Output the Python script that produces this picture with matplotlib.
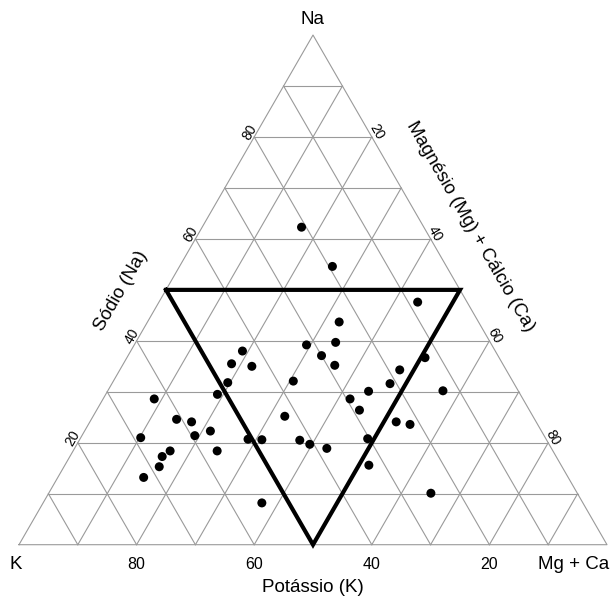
import numpy as np
import matplotlib
matplotlib.use("Agg")
import matplotlib.pyplot as plt

# ---- data (percent) ----
na = [62.3, 54.6, 47.6, 43.7, 39.2, 39.7, 37.1, 35.2, 36.7, 34.3,
      38.0, 35.5, 35.0, 31.8, 32.1, 31.6, 30.2, 30.1, 29.5, 28.6,
      28.6, 26.4, 25.2, 24.6, 24.1, 24.1, 23.6, 22.3, 21.4, 21.0,
      20.7, 20.6, 20.5, 19.7, 20.8, 18.9, 18.4, 18.4, 17.3, 15.3,
      15.6, 13.2, 10.1, 8.2]
mgca = [16.9, 26.0, 44.0, 32.6, 29.3, 34.0, 32.9, 36.1, 50.7, 47.6,
        19.0, 18.4, 22.1, 19.6, 30.6, 47.3, 57.0, 44.4, 19.0, 8.7,
        42.0, 44.7, 32.6, 14.5, 17.3, 52.1, 54.7, 21.4, 19.2, 10.2,
        28.6, 31.0, 37.5, 39.6, 48.9, 42.9, 16.5, 24.5, 15.7, 16.2,
        51.7, 14.6, 65.0, 37.2]
k = [100 - a - b for a, b in zip(na, mgca)]

ticks = [20, 40, 60, 80]
grid_levels = [10, 20, 30, 40, 50, 60, 70, 80, 90]
region = [(50, 0, 50), (0, 50, 50), (50, 50, 0)]  # (K, MgCa, Na)

H = np.sqrt(3) / 2


def xy(kv, mv, nv):
    kv, mv, nv = np.asarray(kv, float), np.asarray(mv, float), np.asarray(nv, float)
    return mv + nv / 2, nv * H


fig = plt.figure(figsize=(6.14, 6.10), dpi=100)
ax = fig.add_axes([0, 0, 1, 1])
ax.set_xlim(-19 / 5.88, (614 - 19) / 5.88)
ax.set_ylim(-65.3 / 5.885, (610 - 65.3) / 5.885)
ax.axis("off")

gcol = "#9a9a9a"
glw = 0.8
# outer triangle
ox, oy = xy([100, 0, 0, 100], [0, 100, 0, 0], [0, 0, 100, 0])
ax.plot(ox, oy, color=gcol, lw=glw, zorder=1)
for g in grid_levels:
    x, y = xy([100 - g, 0], [0, 100 - g], [g, g])
    ax.plot(x, y, color=gcol, lw=glw, zorder=1)
    x, y = xy([g, g], [100 - g, 0], [0, 100 - g])
    ax.plot(x, y, color=gcol, lw=glw, zorder=1)
    x, y = xy([100 - g, 0], [g, g], [0, 100 - g])
    ax.plot(x, y, color=gcol, lw=glw, zorder=1)

# region triangle
rk = [p[0] for p in region] + [region[0][0]]
rm = [p[1] for p in region] + [region[0][1]]
rn = [p[2] for p in region] + [region[0][2]]
x, y = xy(rk, rm, rn)
ax.plot(x, y, color="black", lw=3.0, solid_joinstyle="miter", zorder=2)

# points
px, py = xy(k, mgca, na)
ax.scatter(px, py, s=42, color="black", edgecolors="none", zorder=3)

fam = ["Liberation Sans", "DejaVu Sans"]
nfam = ["Liberation Sans Narrow", "Liberation Sans", "DejaVu Sans"]
fs = 13.5

# ticks
for t in ticks:
    x, y = xy(t, 100 - t, 0)
    ax.annotate(str(t), (x, y), xytext=(0, -14), textcoords="offset points",
                ha="center", va="center", fontsize=11.5, family=nfam)
    x, y = xy(100 - t, 0, t)
    ax.annotate(str(t), (x, y), xytext=(-3.5, 3.5), textcoords="offset points",
                ha="center", va="center", fontsize=10, rotation=60, family=nfam)
    x, y = xy(0, t, 100 - t)
    ax.annotate(str(t), (x, y), xytext=(3.5, 4), textcoords="offset points",
                ha="center", va="center", fontsize=10, rotation=-60, family=nfam)

# vertex labels
x, y = xy(0, 0, 100)
ax.annotate("Na", (x, y), xytext=(0, 11), textcoords="offset points",
            ha="center", va="center", fontsize=fs, family=fam)
x, y = xy(100, 0, 0)
ax.annotate("K", (x, y), xytext=(-2, -14), textcoords="offset points",
            ha="center", va="center", fontsize=fs, family=fam)
x, y = xy(0, 100, 0)
ax.annotate("Mg + Ca", (x, y), xytext=(-24, -14), textcoords="offset points",
            ha="center", va="center", fontsize=fs, family=fam)

# axis titles
x, y = xy(50, 50, 0)
ax.annotate("Potássio (K)", (x, y), xytext=(0, -30.5), textcoords="offset points",
            ha="center", va="center", fontsize=fs, family=fam)
x, y = xy(50, 0, 50)
ax.annotate("Sódio (Na)", (x, y), xytext=(-32.5, -1), textcoords="offset points",
            ha="center", va="center", fontsize=fs, rotation=60, family=fam)
x, y = xy(0, 37.5, 62.5)
ax.annotate("Magnésio (Mg) + Cálcio (Ca)", (x, y), xytext=(34, 0), textcoords="offset points",
            ha="center", va="center", fontsize=fs, rotation=-60, family=fam)

fig.savefig("out.png", dpi=100)
